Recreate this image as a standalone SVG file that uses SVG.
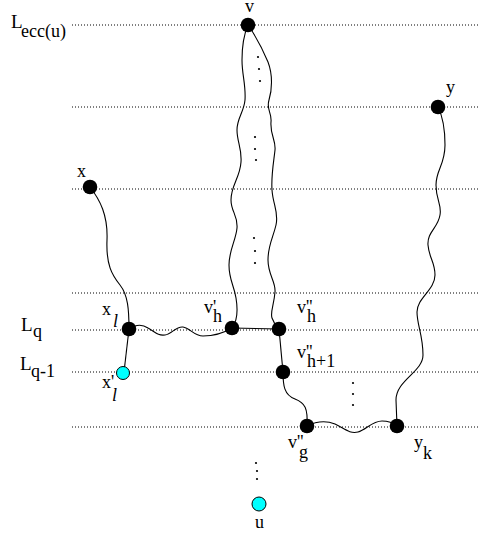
<svg xmlns="http://www.w3.org/2000/svg" width="480" height="536" viewBox="0 0 480 536">
<style>
.lvl{stroke:#000;stroke-width:1;stroke-dasharray:1 2;fill:none}
.edge{stroke:#000;stroke-width:1.1;fill:none}
.node{fill:#000}
.cnode{fill:#00ffff;stroke:#000;stroke-width:1}
.dot{fill:#000}
text{font-family:"Liberation Serif","Times New Roman",serif;font-size:18px;fill:#000}
.big{font-size:19px}
.it{font-style:italic}
</style>
<rect width="480" height="536" fill="#fff"/>
<g id="levels">
<line class="lvl" x1="72" y1="25" x2="480" y2="25"/>
<line class="lvl" x1="72" y1="107" x2="480" y2="107"/>
<line class="lvl" x1="72" y1="189" x2="480" y2="189"/>
<line class="lvl" x1="72" y1="293" x2="480" y2="293"/>
<line class="lvl" x1="72" y1="330" x2="480" y2="330"/>
<line class="lvl" x1="72" y1="372" x2="480" y2="372"/>
<line class="lvl" x1="72" y1="427" x2="480" y2="427"/>
</g>
<g id="level-labels">
<text class="big" x="11" y="28">L<tspan x="21" y="37" style="font-size:18px">ecc(u)</tspan></text>
<text class="big" x="21" y="331">L<tspan x="33" y="337" style="font-size:18px">q</tspan></text>
<text class="big" x="20" y="370">L<tspan x="31" y="377" style="font-size:18px">q-1</tspan></text>
</g>
<g id="connectors">
<path class="edge" d="M90,187 C100,200 108,215 107,240 C106,265 112,275 120,285 C128,295 129,310 129,329"/>
<path class="edge" d="M129,329 L124,372"/>
<path class="edge" d="M129,329 C135,325 142,324 148,328 C155,332 158,336 165,335 C172,334 176,326 183,327 C190,328 194,336 203,336 C212,336 222,334 232,328"/>
<path class="edge" d="M232,328 L279,329"/>
<path class="edge" d="M279,329 L283,372"/>
<path class="edge" d="M283,372 C283,385 284,395 295,399 C305,403 308,408 307,426"/>
<path class="edge" d="M307,426 C315,422 325,420 335,424 C345,429 350,434 358,432 C366,430 372,421 382,421 C390,421 395,424 398,426"/>
<path class="edge" d="M438,107 C442,115 445,125 445,145 C445,165 436,170 436,185 C436,200 442,205 440,215 C438,228 427,232 428,245 C429,258 435,262 435,275 C435,290 417,298 417,312 C417,325 423,335 423,355 C423,372 396,380 396,400 L397,426"/>
<path class="edge" d="M248,25 C245,32 242,45 242,60 C242,75 246,85 245,100 C244,112 237,118 237,130 C237,142 242,148 241,162 C240,178 231,185 231,200 C231,212 238,215 237,228 C236,240 229,250 229,265 C229,280 234,285 236,298 C238,310 238,320 232,328"/>
<path class="edge" d="M248,25 C255,35 263,50 268,62 C273,75 272,90 269,100 C266,110 272,112 271,122 C270,135 276,140 275,150 C274,160 271,175 272,190 C273,205 279,212 276,225 C273,238 268,245 268,260 C268,275 276,282 275,292 C274,305 270,312 272,318 C274,324 276,326 279,329"/>
</g>
<g id="ellipses">
<circle class="dot" cx="258" cy="57" r="1.1"/><circle class="dot" cx="259" cy="69" r="1.1"/><circle class="dot" cx="260" cy="81" r="1.1"/>
<circle class="dot" cx="255" cy="137" r="1.1"/><circle class="dot" cx="255" cy="149" r="1.1"/><circle class="dot" cx="256" cy="160" r="1.1"/>
<circle class="dot" cx="254" cy="238" r="1.1"/><circle class="dot" cx="255" cy="251" r="1.1"/><circle class="dot" cx="255" cy="263" r="1.1"/>
<circle class="dot" cx="353" cy="383" r="1.1"/><circle class="dot" cx="353" cy="394" r="1.1"/><circle class="dot" cx="353" cy="405" r="1.1"/>
<circle class="dot" cx="256" cy="463" r="1.1"/><circle class="dot" cx="257" cy="471" r="1.1"/><circle class="dot" cx="257" cy="479" r="1.1"/>
</g>
<g id="node-v"><circle class="node" cx="248" cy="25" r="7.3"/><text x="245" y="12">v</text></g>
<g id="node-y"><circle class="node" cx="438" cy="107" r="7.3"/><text x="446" y="93">y</text></g>
<g id="node-x"><circle class="node" cx="90" cy="187" r="7.3"/><text x="77" y="177">x</text></g>
<g id="node-xl"><circle class="node" cx="129" cy="329" r="7.3"/><text x="102" y="315">x<tspan class="it" x="113" y="327">l</tspan></text></g>
<g id="node-vh1"><circle class="node" cx="232" cy="328" r="7.3"/><text x="204" y="313">v'<tspan x="213" y="322">h</tspan></text></g>
<g id="node-vh2"><circle class="node" cx="279" cy="329" r="7.3"/><text x="297" y="313">v''<tspan x="307" y="322">h</tspan></text></g>
<g id="node-vh3"><circle class="node" cx="283" cy="372" r="7.3"/><text x="297" y="358">v''<tspan x="307" y="367">h+1</tspan></text></g>
<g id="node-xl2"><circle class="cnode" cx="123" cy="373" r="6.5"/><text x="102" y="388">x'<tspan class="it" x="112" y="401">l</tspan></text></g>
<g id="node-vg"><circle class="node" cx="307" cy="426" r="7.3"/><text x="288" y="448">v''<tspan x="299" y="458">g</tspan></text></g>
<g id="node-yk"><circle class="node" cx="397" cy="426" r="7.3"/><text x="414" y="448">y<tspan x="423" y="459">k</tspan></text></g>
<g id="node-u"><circle class="cnode" cx="259" cy="504" r="7"/><text x="255" y="528">u</text></g>
</svg>
